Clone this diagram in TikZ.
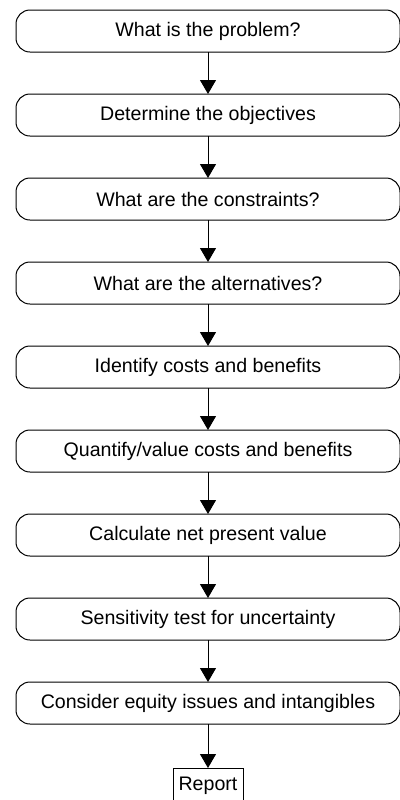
\documentclass[tikz,border=0pt]{standalone}
\usepackage{fontspec}
\setmainfont{Liberation Sans}
\usetikzlibrary{
  arrows.meta,
  positioning
}
\tikzset{
  stage/.style={
    draw,
    line width=0.5pt,
    rounded corners=7pt,
    minimum width=192pt,
    minimum height=21pt,
    inner sep=0pt,
    outer sep=0pt,
    font=\fontsize{9.8pt}{12pt}\selectfont
  },
  outcome/.style={
    draw,
    line width=0.5pt,
    minimum width=35pt,
    inner xsep=0pt,
    inner ysep=4.5pt,
    outer sep=0pt,
    font=\fontsize{9.8pt}{12pt}\selectfont
  }
}

\begin{document}
\begin{tikzpicture}[>={Triangle[width=8pt,length=7pt]}, node distance=21pt]
    \useasboundingbox (0,0) rectangle (200pt,-400pt);

    \node[stage] (problem) at (104pt,-15.5pt) {What is the problem?};
    \node[stage, below=of problem] (objectives) {Determine the objectives};
    \node[stage, below=of objectives] (constraints) {What are the constraints?};
    \node[stage, below=of constraints] (alternatives) {What are the alternatives?};
    \node[stage, below=of alternatives] (identify) {Identify costs and benefits};
    \node[stage, below=of identify] (quantify) {Quantify/value costs and benefits};
    \node[stage, below=of quantify] (npv) {Calculate net present value};
    \node[stage, below=of npv] (sensitivity) {Sensitivity test for uncertainty};
    \node[stage, below=of sensitivity] (equity) {Consider equity issues and intangibles};
    \node[outcome, below=22pt of equity] (report) {Report};

    \path[->, line width=0.5pt]
    (problem) edge (objectives)
    (objectives) edge (constraints)
    (constraints) edge (alternatives)
    (alternatives) edge (identify)
    (identify) edge (quantify)
    (quantify) edge (npv)
    (npv) edge (sensitivity)
    (sensitivity) edge (equity)
    (equity) edge (report)
        ;
\end{tikzpicture}
\end{document}
